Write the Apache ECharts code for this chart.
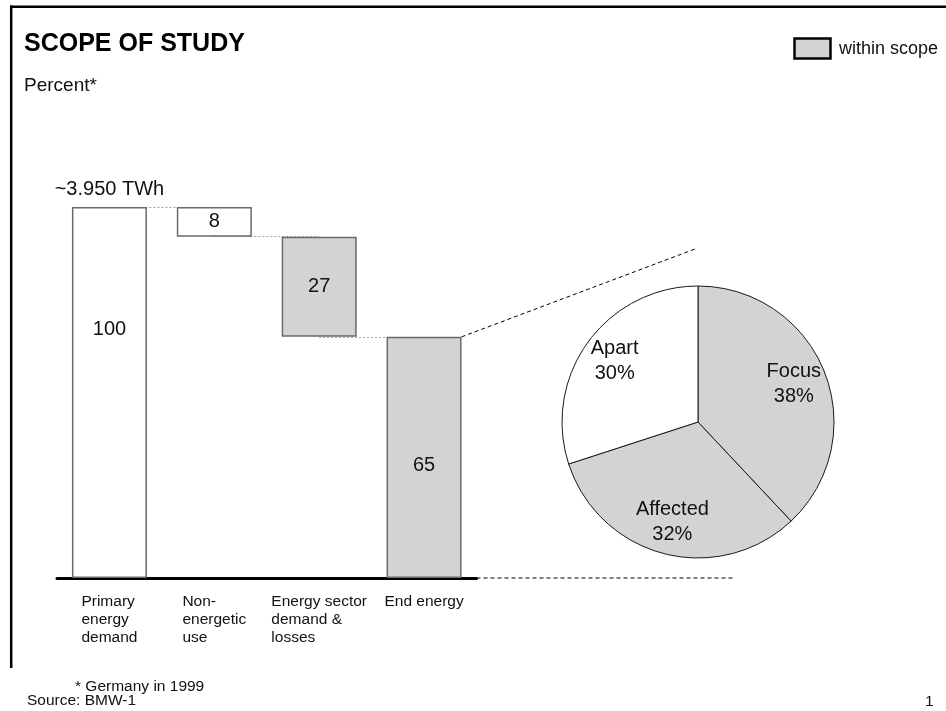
<!DOCTYPE html>
<html>
<head>
<meta charset="utf-8">
<script src="https://cdn.jsdelivr.net/npm/echarts@6/dist/echarts.min.js"></script>
<style>
  html, body { margin: 0; padding: 0; background: #fff; }
  #chart { width: 946px; height: 711px; }
</style>
</head>
<body>
<div id="chart"></div>
<script>
// Energy flow steps (percent of primary energy demand)
const categories = ['Primary\nenergy\ndemand', 'Non-\nenergetic\nuse', 'Energy sector\ndemand &\nlosses', 'End energy'];
const stepValues = [100, 8, 27, 65];
const stepKinds = ['total', 'down', 'down', 'total'];
const stepInScope = [false, false, true, true];
const totalLabel = '~3.950 TWh';

// Split of end energy
const pieNames = ['Focus', 'Affected', 'Apart'];
const pieValues = [38, 32, 30];
const pieInScope = [true, true, false];

const FONT = '"Liberation Sans", Arial, sans-serif';
const GRAY = '#d3d3d3';
const EDGE = '#6a6a6a';
const BAR_W = 75;
const valueLabelPos = [['50%', '33%'], ['50%', '50%'], ['50%', '50%'], ['50%', '53.5%']];

// Waterfall: invisible base + visible step, and the level reached after each step
let level = 0;
const bases = [];
const levelAfter = [];
stepValues.forEach((v, i) => {
  if (stepKinds[i] === 'total') { bases.push(0); level = v; }
  else { level -= v; bases.push(level); }
  levelAfter.push(level);
});

const chart = echarts.init(document.getElementById('chart'), null, { renderer: 'canvas' });

chart.setOption({
  animation: false,
  backgroundColor: '#fff',
  textStyle: { fontFamily: FONT },
  title: {
    text: 'SCOPE OF STUDY',
    subtext: 'Percent*',
    left: 24, top: 32, padding: 0, itemGap: 19,
    textStyle: { fontSize: 25, fontWeight: 'bold', color: '#000', fontFamily: FONT },
    subtextStyle: { fontSize: 19, color: '#111', fontFamily: FONT }
  },
  grid: { left: 57, right: 469.5, top: 207, bottom: 133 },
  xAxis: {
    type: 'category',
    data: categories,
    axisLine: { lineStyle: { color: '#000', width: 3 } },
    axisTick: { show: false },
    axisLabel: {
      interval: 0, margin: 15,
      formatter: v => v.split('\n').map(s => '{l|' + s + '}').join('\n'),
      rich: { l: { align: 'left', fontSize: 15.5, lineHeight: 18, color: '#111', fontFamily: FONT } }
    }
  },
  yAxis: { type: 'value', min: 0, max: 100, show: false },
  series: [
    {
      type: 'bar', name: 'base', stack: 'flow', z: 1, barWidth: BAR_W, silent: true,
      itemStyle: { color: 'rgba(0,0,0,0)' },
      data: bases,
      markLine: {
        z: 1, silent: true, symbol: 'none',
        label: { show: false },
        lineStyle: { color: '#a0a0a0', type: [2, 2], width: 1 },
        data: levelAfter.slice(0, -1).map((lv, i) => [
          { coord: [categories[i], lv] },
          { coord: [categories[i + 1], lv] }
        ])
      }
    },
    {
      type: 'bar', name: 'step', stack: 'flow', z: 2, barWidth: BAR_W, silent: true,
      itemStyle: { borderColor: EDGE, borderWidth: 1.5 },
      label: { show: true, align: 'center', verticalAlign: 'middle', fontSize: 20, color: '#111', fontFamily: FONT },
      data: stepValues.map((v, i) => ({
        value: v,
        itemStyle: { color: stepInScope[i] ? GRAY : '#fff' },
        label: { position: valueLabelPos[i] }
      })),
      markPoint: {
        z: 3, silent: true, symbol: 'circle', symbolSize: 0,
        label: { show: true, position: 'top', distance: 8, formatter: totalLabel, fontSize: 20, color: '#111', fontFamily: FONT },
        data: [{ coord: [categories[0], stepValues[0]] }]
      }
    },
    {
      type: 'pie', name: 'end energy', center: [698, 422], radius: [0, 136],
      startAngle: 90, clockwise: true, silent: true,
      label: { show: false }, labelLine: { show: false },
      itemStyle: { borderColor: '#1a1a1a', borderWidth: 1 },
      data: pieNames.map((n, i) => ({ name: n, value: pieValues[i], itemStyle: { color: pieInScope[i] ? GRAY : '#fff' } }))
    },
    {
      type: 'pie', name: 'end energy labels', center: [698, 422], radius: [64, 136],
      startAngle: 90, clockwise: true, silent: true,
      itemStyle: { color: 'rgba(0,0,0,0)', borderWidth: 0 },
      labelLine: { show: false },
      label: { show: true, position: 'inside', formatter: '{b}\n{c}%', fontSize: 20, lineHeight: 25, color: '#111', fontFamily: FONT },
      data: pieNames.map((n, i) => ({ name: n, value: pieValues[i] }))
    }
  ]
});

// Guide lines from the end-energy bar to the pie, plus frame, legend and notes
const p3 = chart.convertToPixel({ gridIndex: 0 }, [3, stepValues[3]]);
const p2 = chart.convertToPixel({ gridIndex: 0 }, [2, 0]);
const catW = p3[0] - p2[0];
const axisEndX = p3[0] + catW / 2;
const baseY = chart.convertToPixel({ gridIndex: 0 }, [3, 0])[1];
const dashStyle = { stroke: '#000', lineWidth: 1, lineDash: [4, 3] };

chart.setOption({
  graphic: [
    { type: 'line', silent: true, shape: { x1: p3[0] + BAR_W / 2, y1: p3[1], x2: 695, y2: 249 }, style: dashStyle },
    { type: 'line', silent: true, shape: { x1: axisEndX, y1: baseY, x2: 735, y2: baseY }, style: dashStyle },
    { type: 'line', silent: true, shape: { x1: 10, y1: 6.8, x2: 946, y2: 6.8 }, style: { stroke: '#000', lineWidth: 2.5 } },
    { type: 'line', silent: true, shape: { x1: 11.2, y1: 5.6, x2: 11.2, y2: 668 }, style: { stroke: '#000', lineWidth: 2.5 } },
    { type: 'rect', silent: true, shape: { x: 794.5, y: 38.5, width: 36, height: 20 }, style: { fill: GRAY, stroke: '#000', lineWidth: 2.5 } },
    { type: 'text', silent: true, x: 839, y: 49, style: { text: 'within scope', fontSize: 18, fontFamily: FONT, fill: '#111', verticalAlign: 'middle' } },
    { type: 'text', silent: true, x: 75, y: 687, style: { text: '* Germany in 1999', fontSize: 15.5, fontFamily: FONT, fill: '#111', verticalAlign: 'middle' } },
    { type: 'text', silent: true, x: 27, y: 701, style: { text: 'Source: BMW-1', fontSize: 15.5, fontFamily: FONT, fill: '#111', verticalAlign: 'middle' } },
    { type: 'text', silent: true, x: 925, y: 702, style: { text: '1', fontSize: 15.5, fontFamily: FONT, fill: '#111', verticalAlign: 'middle' } }
  ]
});
</script>
</body>
</html>
